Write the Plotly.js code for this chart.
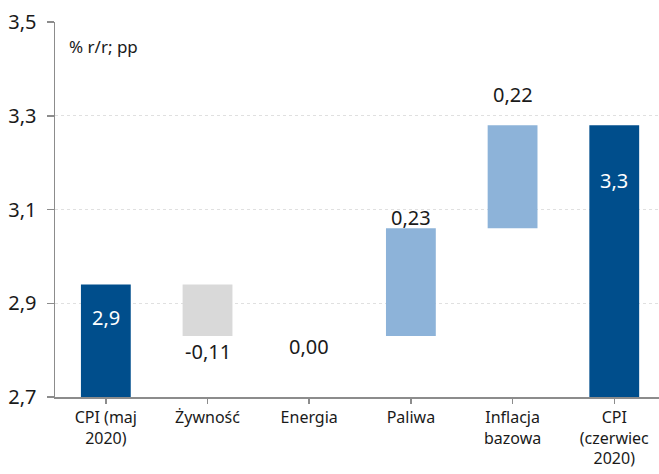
<!DOCTYPE html>
<html>
<head>
<meta charset="utf-8">
<script src="https://cdn.plot.ly/plotly-3.0.1.min.js"></script>
<style>html,body{margin:0;padding:0;background:#fff;}#chart{width:659px;height:474px;}</style>
</head>
<body>
<div id="chart"></div>
<script>
// ---- data ----
const categories = ["CPI (maj<br>2020)", "Żywność", "Energia", "Paliwa", "Inflacja<br>bazowa", "CPI<br>(czerwiec<br>2020)"];
const measures   = ["absolute", "relative", "relative", "relative", "relative", "total"];
const values     = [2.94, -0.11, 0.00, 0.23, 0.22, 3.28];
const labels     = ["2,9", "-0,11", "0,00", "0,23", "0,22", "3,3"];
const yTicks     = [2.7, 2.9, 3.1, 3.3, 3.5];
const unitNote   = "% r/r; pp";

// ---- styles ----
const COL_TOTAL = "#004E8C", COL_UP = "#8DB3D9", COL_DOWN = "#D9D9D9";
const FONT = "Noto Sans, DejaVu Sans, sans-serif";
// label placement: [anchor ('top'|'bottom'), pixel shift, colour]
const labelStyle = [
  ["top", -33, "#ffffff"],
  ["bottom", -15, "#1a1a1a"],
  ["bottom", -10, "#1a1a1a"],
  ["top", 11, "#1a1a1a"],
  ["top", 31, "#1a1a1a"],
  ["top", -55, "#ffffff"]
];

// compute bases/heights through the waterfall logic
const bases = [], heights = [], colors = [];
let run = 0;
for (let i = 0; i < values.length; i++) {
  if (measures[i] === "absolute" || measures[i] === "total") {
    bases.push(0); heights.push(values[i]); colors.push(COL_TOTAL); run = values[i];
  } else {
    bases.push(run); heights.push(values[i]); colors.push(values[i] < 0 ? COL_DOWN : COL_UP); run += values[i];
  }
}
const xIdx = categories.map((c, i) => i);

const annotations = labels.map((t, i) => {
  const lo = Math.min(bases[i], bases[i] + heights[i]);
  const hi = Math.max(bases[i], bases[i] + heights[i]);
  const st = labelStyle[i];
  return {
    x: i, y: st[0] === "top" ? hi : lo, xref: "x", yref: "y",
    text: t, showarrow: false, yanchor: "middle", xanchor: "center",
    yshift: st[1], font: {family: FONT, size: 20, color: st[2]}
  };
});
annotations.push({
  xref: "paper", yref: "paper", x: 0.02, y: 0.935, xanchor: "left", yanchor: "middle",
  text: unitNote, showarrow: false, font: {family: FONT, size: 17, color: "#1a1a1a"}
});

const trace = {
  type: "bar", x: xIdx, y: heights, base: bases,
  marker: {color: colors, line: {width: 0}},
  width: 0.49, hoverinfo: "none", cliponaxis: true
};

const layout = {
  width: 659, height: 474,
  margin: {l: 55, r: 0, t: 22, b: 77},
  paper_bgcolor: "#ffffff", plot_bgcolor: "#ffffff",
  separators: ", ",
  showlegend: false,
  font: {family: FONT, color: "#1a1a1a"},
  xaxis: {
    range: [-0.5, 5.44], tickmode: "array", tickvals: xIdx, ticktext: categories,
    tickson: "boundaries", ticks: "outside", ticklen: 5, tickcolor: "#8c8c8c", tickwidth: 1.5,
    showline: true, linecolor: "#8c8c8c", linewidth: 1.5, showgrid: false, zeroline: false,
    tickfont: {family: FONT, size: 16, color: "#1a1a1a"}, fixedrange: true
  },
  yaxis: {
    range: [2.7, 3.5], tickmode: "array", tickvals: yTicks, tickformat: ".1f",
    ticks: "outside", ticklen: 7, tickcolor: "#8c8c8c", tickwidth: 1.5,
    showline: true, linecolor: "#8c8c8c", linewidth: 1.5,
    showgrid: true, gridcolor: "#e0e0e0", gridwidth: 1, griddash: "dot", zeroline: false,
    tickfont: {family: FONT, size: 20, color: "#1a1a1a"}, ticklabelstandoff: 6, fixedrange: true
  },
  annotations: annotations
};

Plotly.newPlot("chart", [trace], layout, {displayModeBar: false, staticPlot: true});
</script>
</body>
</html>
